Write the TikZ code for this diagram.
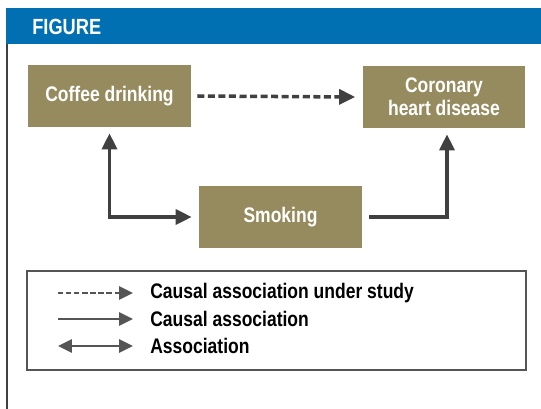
\documentclass[tikz,border=0pt]{standalone}
\usepackage{fontspec}
\setmainfont{Liberation Sans}[FakeStretch=0.83]
\usepackage{tikz}
\usetikzlibrary{arrows.meta}

\definecolor{figblue}{HTML}{0070B2}
\definecolor{khaki}{HTML}{968B5E}
\definecolor{arrowgray}{HTML}{404040}
\definecolor{keygray}{HTML}{555555}

\begin{document}
\begin{tikzpicture}[x=0.02cm, y=-0.02cm,
		factor/.style={fill=khaki, text=white, font=\fontsize{12}{13}\selectfont\bfseries, align=center, minimum width=3.26cm, minimum height=1.24cm, inner sep=0},
		causal/.style={draw=arrowgray, line width=2pt, -{Triangle[length=3.2mm, width=3mm]}},
		keyline/.style={draw=keygray, line width=1.6pt, -{Triangle[length=2.8mm, width=2.6mm]}},
		keytext/.style={anchor=west, inner sep=0, font=\fontsize{12}{13}\selectfont\bfseries}]
		\useasboundingbox (0,0) rectangle (541,409);
		
		% header band
		\fill[figblue] (6,8) rectangle (541,44);
		\node[anchor=west, inner sep=0, text=white, font=\fontsize{12.5}{13}\selectfont\bfseries] (title) at (32,27) {FIGURE};
		\draw[arrowgray, line width=0.9pt] (7,44) -- (7,409);
		
		\node[factor] (coffee) at (109.5,96) {Coffee drinking};
		\node[factor] (chd) at (444,97) {Coronary\\heart disease};
		\node[factor] (smoking) at (280.5,217) {Smoking};
		
		\draw[causal, dash pattern=on 4pt off 2pt] ([xshift=0.12cm]coffee.east) -- ([xshift=-0.14cm]chd.west);
		\draw[causal, {Triangle[length=3.2mm, width=3mm]}-{Triangle[length=3.2mm, width=3mm]}] ([yshift=-0.12cm]coffee.south) |- ([xshift=-0.14cm]smoking.west);
		\draw[causal] ([xshift=0.14cm]smoking.east) -| ([xshift=0.06cm, yshift=-0.12cm]chd.south);
		
		% key
		\draw[keygray, line width=0.6pt] (27,271) rectangle (526,370);
		\node[keytext] (k1) at (150,293) {Causal association under study};
		\node[keytext] (k2) at (150,319) {Causal association};
		\node[keytext] (k3) at (150,346) {Association};
		\coordinate (s1) at (58,293);
		\coordinate (s2) at (58,319);
		\coordinate (s3) at (58,346);
		\draw[keyline, dash pattern=on 3pt off 1.6pt] (s1) -- ([xshift=-0.34cm]k1.west);
		\draw[keyline] (s2) -- ([xshift=-0.34cm]k2.west);
		\draw[keyline, {Triangle[length=2.8mm, width=2.6mm]}-{Triangle[length=2.8mm, width=2.6mm]}] (s3) -- ([xshift=-0.34cm]k3.west);
\end{tikzpicture}
\end{document}
